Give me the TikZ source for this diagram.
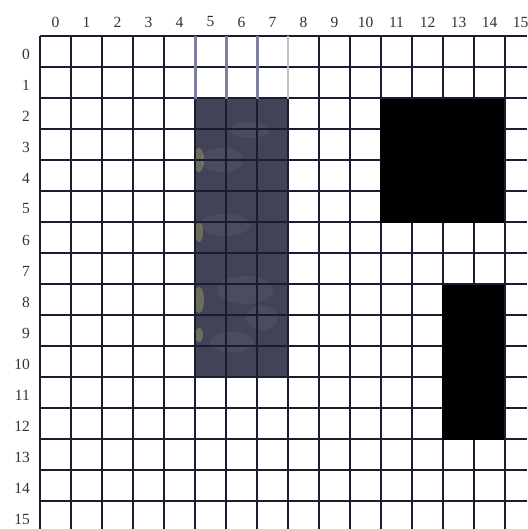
\documentclass[tikz,border=0pt]{standalone}
\usepackage{fontspec}
\setmainfont{Liberation Serif}
\definecolor{gridcol}{HTML}{1C1C30}
\definecolor{slate}{HTML}{434357}
\definecolor{slatelight}{HTML}{707080}
\definecolor{yell}{HTML}{B8BE6A}
\definecolor{topline}{HTML}{7E80A0}
\definecolor{labcol}{HTML}{333333}
\begin{document}
\begin{tikzpicture}[x=1pt,y=-1pt,
  gridline/.style={draw=gridcol,line width=1.3pt},
  topgray/.style={draw=topline,line width=3pt},
  lab/.style={font=\fontsize{15.5}{15.5}\selectfont,text=labcol,inner sep=0pt},
  patch/.style={fill=slatelight,opacity=0.22},
  ypatch/.style={fill=yell,opacity=0.35}]
\useasboundingbox (0,0) rectangle (527,529);
\fill[white] (0,0) rectangle (527,529);
% textured dark block (columns 5-7, rows 2-10)
\fill[slate] (195,99) rectangle (288,377);
\fill[patch] (222,160) ellipse (22 and 12);
\fill[patch] (225,225) ellipse (25 and 11);
\fill[patch] (245,290) ellipse (28 and 14);
\fill[patch] (262,318) ellipse (16 and 12);
\fill[patch] (232,342) ellipse (22 and 10);
\fill[patch] (250,130) ellipse (20 and 8);
\fill[ypatch] (199,160) ellipse (5 and 12);
\fill[ypatch] (199,232) ellipse (4 and 10);
\fill[ypatch] (199,300) ellipse (5 and 13);
\fill[ypatch] (199,335) ellipse (4 and 7);
% grid
\foreach \k in {0,...,15} {
  \draw[gridline] (40+31*\k,36) -- (40+31*\k,529);
  \draw[gridline] (40,36+31*\k) -- (527,36+31*\k);
}
% grey column lines above the block (rows 0-1)
\draw[topgray] (195,36) -- (195,99);
\draw[topgray] (226,36) -- (226,99);
\draw[topgray] (257,36) -- (257,99);
\draw[draw=gray!50,line width=2.5pt] (288,36) -- (288,99);
% black blocks
\fill[black] (380,99) rectangle (504,223);
\fill[black] (442,285) rectangle (504,440);
% labels
\foreach \k in {0,...,15} {
  \node[lab] (c\k) at (55.5+31*\k,22) {\k};
  \node[lab,anchor=east] (r\k) at (30,54+31*\k) {\k};
}
\end{tikzpicture}
\end{document}
